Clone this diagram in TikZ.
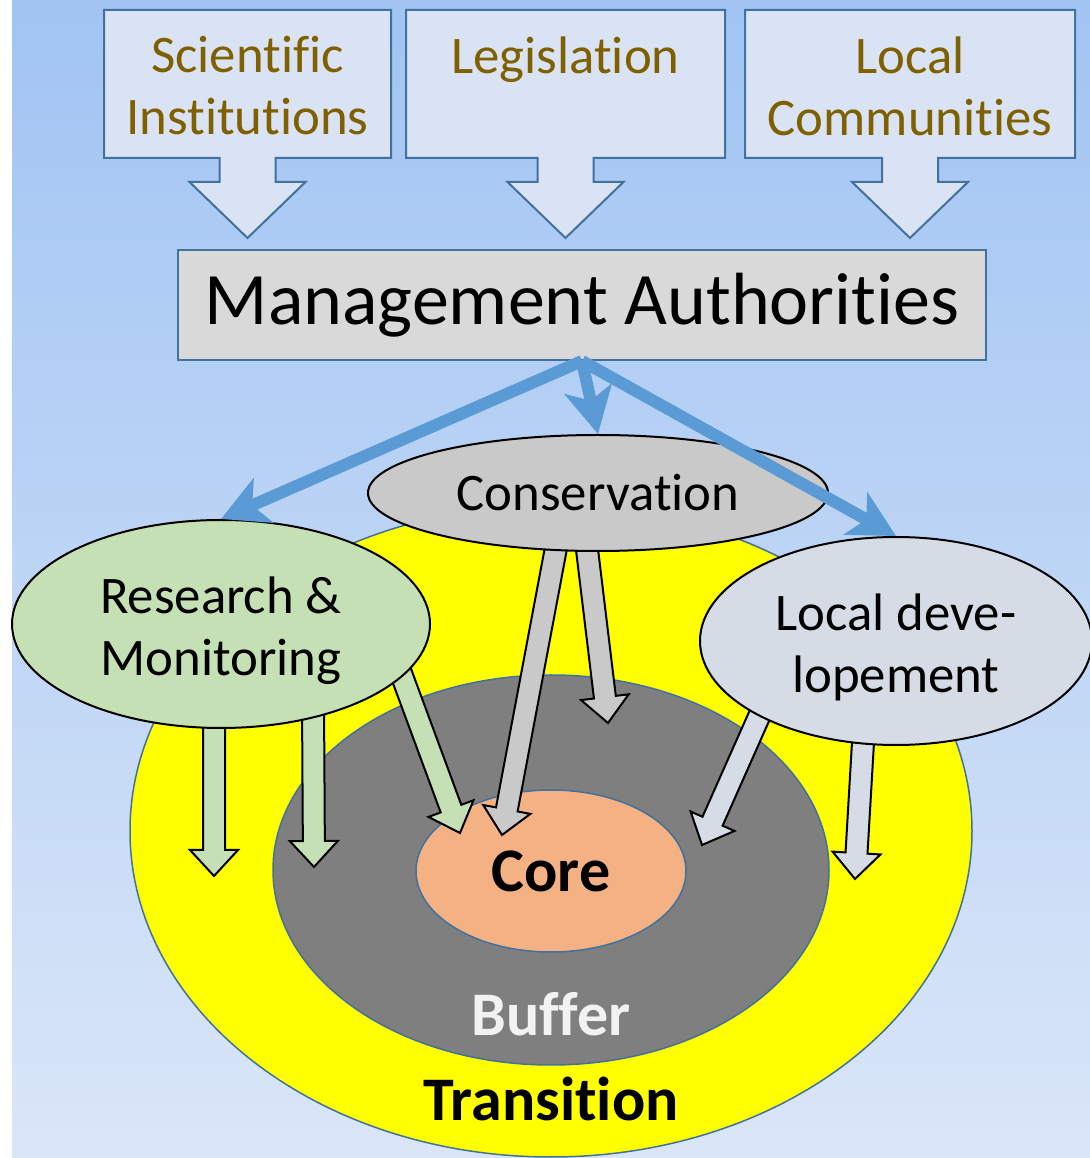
\documentclass[tikz,border=0pt]{standalone}
\usepackage{fontspec}
\setmainfont[Ligatures={NoCommon,NoRequired,NoContextual,NoRare},Contextuals=NoAlternate,RawFeature={-liga;-clig;-dlig;-calt}]{Carlito}
\usetikzlibrary{shapes.geometric,arrows.meta,calc}

\definecolor{bgtop}{HTML}{A1C4F3}
\definecolor{bgbot}{HTML}{DAE6F8}
\definecolor{boxfill}{HTML}{DAE3F3}
\definecolor{boxline}{HTML}{41719C}
\definecolor{boxtext}{HTML}{7F6000}
\definecolor{mgmtfill}{HTML}{D9D9D9}
\definecolor{flowblue}{HTML}{5B9BD5}
\definecolor{transfill}{HTML}{FFFF00}
\definecolor{buffergray}{HTML}{7F7F7F}
\definecolor{corefill}{HTML}{F4B183}
\definecolor{consfill}{HTML}{C9C9C9}
\definecolor{resfill}{HTML}{C5E0B4}
\definecolor{locfill}{HTML}{D6DCE5}

\pgfdeclarelayer{back}
\pgfsetlayers{back,main}

\tikzset{
  calloutbox/.style={fill=boxfill,draw=boxline,line width=1pt},
  boxtext/.style={text=boxtext,align=center,inner sep=0pt,font=\fontsize{26.4}{31}\selectfont},
  mgmtbox/.style={fill=mgmtfill,draw=boxline,line width=1pt,minimum width=404pt,minimum height=55pt,font=\fontsize{37}{44}\selectfont},
  zone/.style={ellipse,draw=boxline,line width=0.75pt,inner sep=0pt},
  zonelabel/.style={font=\bfseries\fontsize{31}{36}\selectfont},
  task/.style={ellipse,draw=black,line width=1pt,inner sep=0pt,align=center,font=\fontsize{26.4}{31}\selectfont},
  blockarrow/.style={draw=black,line width=1pt,line join=miter},
  bluearrow/.style={draw=flowblue,line width=6pt,-{Stealth[length=23pt,width=24pt,inset=6pt]}}
}

% block arrow from #2 to #3, filled with #1
\newcommand\blockarrow[3]{%
  \coordinate (bamid) at ($(#3)!13pt!(#2)$);
  \draw[blockarrow,fill=#1] ($(#2)!5.5pt!90:(#3)$) -- ($(bamid)!5.5pt!90:(#3)$)
    -- ($(bamid)!12pt!90:(#3)$) -- (#3) -- ($(bamid)!12pt!-90:(#3)$)
    -- ($(bamid)!5.5pt!-90:(#3)$) -- ($(#2)!5.5pt!-90:(#3)$) -- cycle;
}

\begin{document}
\begin{tikzpicture}[x=0.5pt,y=0.5pt]
\useasboundingbox (0,0) rectangle (1090,1158);

\begin{pgfonlayer}{back}
  \fill[white] (0,0) rectangle (12,1158);
  \fill[top color=bgtop,bottom color=bgbot] (12,0) rectangle (1090,1158);

  % sources with their down arrows
  \foreach \nm/\cx/\hw/\txt in {sci/247.5/143.5/{Scienti\kern0ptf\kern0ptic\\Instit\kern0ptut\kern0ptions},
      leg/565.5/159.5/{Legislation\\\mbox{}},
      com/910/165/{Local\\Communit\kern0pties}}{
    \draw[calloutbox] ({\cx-\hw},1148) -- ({\cx+\hw},1148) -- ({\cx+\hw},1000)
      -- ({\cx+28},1000) -- ({\cx+28},976) -- ({\cx+58},976) -- (\cx,920)
      -- ({\cx-58},976) -- ({\cx-28},976) -- ({\cx-28},1000) -- ({\cx-\hw},1000) -- cycle;
    \node[boxtext] (\nm) at (\cx,1072) {\txt};
  }

  \node[mgmtbox] (mgmt) at (582,853) {\raisebox{-3.5pt}{Management Authorit\kern0pties}};

  % zones
  \node[zone,fill=transfill,minimum width=421pt,minimum height=326pt] (trans) at (551,327) {};
  \node[zone,fill=buffergray,minimum width=278pt,minimum height=195pt] (buff) at (551,288) {};
  \node[zone,fill=corefill,minimum width=135pt,minimum height=81pt,zonelabel] (core) at (551,287) {Core};
  \node[zonelabel,text=white!95!black] (bufflbl) at ($(buff.south)+(0,52)$) {Buf\kern0ptfer};
  \node[zonelabel] (translbl) at ($(trans.south)+(0,59)$) {Transit\kern0ption};
\end{pgfonlayer}

% functions
\node[task,fill=resfill,minimum width=209pt,minimum height=104pt] (res) at (221,534) {\\[-6pt]Research \&\\Monitoring};
\node[task,fill=consfill,minimum width=230pt,minimum height=58pt] (con) at (598,665) {Conservation};
\node[task,fill=locfill,minimum width=196pt,minimum height=104pt] (loc) at (896,517) {\\[-6pt]Local deve-\\lopement};

\begin{pgfonlayer}{back}
  \coordinate (g1) at (214,282);
  \coordinate (g2) at (314,291);
  \coordinate (g3) at (460,325);
  \coordinate (c1) at (502,323);
  \coordinate (c2) at (608,435);
  \coordinate (l1) at (702,313);
  \coordinate (l2) at (855,279);
  \coordinate (g1s) at ($(res.center)+(-7,-76)$);
  \coordinate (g2s) at ($(res.center)+(92,-76)$);
  \coordinate (g3s) at ($(res.center)+(164,-6)$);
  \coordinate (c1s) at ($(con.center)+(-33,-7)$);
  \coordinate (c2s) at ($(con.center)+(-17,-7)$);
  \coordinate (l1s) at ($(loc.center)+(-103,1)$);
  \coordinate (l2s) at ($(loc.center)+(-27,1)$);
  \blockarrow{resfill}{g1s}{g1}
  \blockarrow{resfill}{g2s}{g2}
  \blockarrow{resfill}{g3s}{g3}
  \blockarrow{consfill}{c1s}{c1}
  \blockarrow{consfill}{c2s}{c2}
  \blockarrow{locfill}{l1s}{l1}
  \blockarrow{locfill}{l2s}{l2}
\end{pgfonlayer}

\draw[bluearrow] (mgmt.south) -- (res.north);
\draw[bluearrow] (mgmt.south) -- (con.north);
\draw[bluearrow] (mgmt.south) -- (loc.north);
\end{tikzpicture}
\end{document}
